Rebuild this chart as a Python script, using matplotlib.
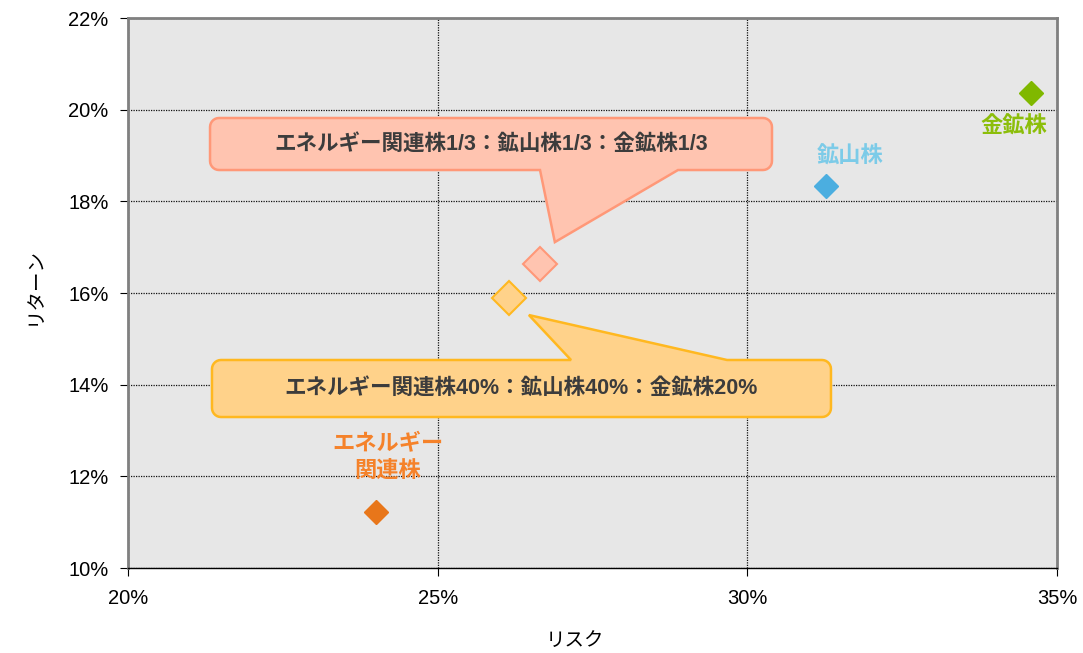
import numpy as np
import matplotlib
matplotlib.use('Agg')
import matplotlib.pyplot as plt
from matplotlib.path import Path
from matplotlib.patches import PathPatch
from matplotlib.ticker import FuncFormatter, MultipleLocator

plt.rcParams['font.family'] = ['Liberation Sans', 'Noto Sans CJK JP']

# single sectors (risk %, return %)
names = ['エネルギー\n関連株', '鉱山株', '金鉱株']
risk = [24.0, 31.27, 34.58]
ret = [11.22, 18.34, 20.36]
marker_colors = ['#E8761A', '#4BAEE0', '#80B800']
label_colors = ['#F5822A', '#7CCBE8', '#8CBE0A']
label_offsets = [(12, 54), (24, 29), (-17, -34)]  # pixels

# portfolios
port_names = ['エネルギー関連株1/3：鉱山株1/3：金鉱株1/3',
              'エネルギー関連株40%：鉱山株40%：金鉱株20%']
port_risk = [26.65, 26.15]
port_ret = [16.63, 15.89]
port_face = ['#FFC4B0', '#FFD28A']
port_edge = ['#FF9878', '#FFB820']

W, H, DPI = 1083, 653, 100
fig = plt.figure(figsize=(W / DPI, H / DPI), dpi=DPI)
ax = fig.add_axes([128 / W, 85 / H, 929 / W, 550 / H])
ax.set_facecolor('#E7E7E7')

ax.set_xlim(20, 35)
ax.set_ylim(10, 22)
ax.xaxis.set_major_locator(MultipleLocator(5))
ax.yaxis.set_major_locator(MultipleLocator(2))
pct = FuncFormatter(lambda v, p: f'{v:.0f}%')
ax.xaxis.set_major_formatter(pct)
ax.yaxis.set_major_formatter(pct)
ax.tick_params(axis='both', labelsize=14.5, colors='black', length=6, width=0.8,
               direction='out')
ax.tick_params(axis='x', pad=9)
ax.tick_params(axis='y', pad=8)
ax.grid(True, color='#111111', linewidth=0.9, linestyle=(0, (1, 1)))
ax.set_axisbelow(True)

for s in ['top', 'right', 'left']:
    ax.spines[s].set_color('#808080')
    ax.spines[s].set_linewidth(2)
ax.spines['bottom'].set_color('black')
ax.spines['bottom'].set_linewidth(1)

ax.set_xlabel('リスク', fontsize=14)
ax.set_ylabel('リターン', fontsize=14)
ax.xaxis.set_label_coords((575 - 128) / 929, -(641 - 568) / 550)
ax.yaxis.set_label_coords(-(128 - 35) / 929, (568 - 286) / 550)
ax.xaxis.label.set_va('center')
ax.yaxis.label.set_va('center')

# sector markers and labels
for i in range(len(names)):
    ax.plot(risk[i], ret[i], marker='D', markersize=12.5, color=marker_colors[i],
            linestyle='none', zorder=5)
    ax.annotate(names[i], (risk[i], ret[i]), xytext=label_offsets[i],
                textcoords='offset pixels', ha='center', va='center',
                fontsize=16, fontweight='bold', color=label_colors[i],
                linespacing=1.35, zorder=6)

# portfolio markers
for i in range(len(port_names)):
    ax.plot(port_risk[i], port_ret[i], marker='D', markersize=17.5,
            markerfacecolor=port_face[i], markeredgecolor=port_edge[i],
            markeredgewidth=1.5, linestyle='none', zorder=5)


def arc(cx, cy, r, a0, a1, n=8):
    t = np.linspace(np.radians(a0), np.radians(a1), n)
    return list(zip(cx + r * np.cos(t), cy + r * np.sin(t)))


def callout(box, base, tip, side, face, edge, r=9):
    # box / base in axes fraction, tip in display pixels
    x0, y0 = ax.transAxes.transform((box[0], box[1]))
    x1, y1 = ax.transAxes.transform((box[2], box[3]))
    bx0 = ax.transAxes.transform((base[0], 0))[0]
    bx1 = ax.transAxes.transform((base[1], 0))[0]
    pts = [(x0 + r, y0)]
    if side == 'bottom':
        pts += [(bx0, y0), tip, (bx1, y0)]
    pts += [(x1 - r, y0)]
    pts += arc(x1 - r, y0 + r, r, -90, 0)
    pts += arc(x1 - r, y1 - r, r, 0, 90)
    if side == 'top':
        pts += [(bx1, y1), tip, (bx0, y1)]
    pts += arc(x0 + r, y1 - r, r, 90, 180)
    pts += arc(x0 + r, y0 + r, r, 180, 270)
    pts.append(pts[0])
    codes = [Path.MOVETO] + [Path.LINETO] * (len(pts) - 2) + [Path.CLOSEPOLY]
    patch = PathPatch(Path(pts, codes), facecolor=face, edgecolor=edge,
                      linewidth=1.8, transform=None, zorder=7)
    fig.add_artist(patch)
    return (x0 + x1) / 2, (y0 + y1) / 2


boxes = [(0.0883, 0.7236, 0.6932, 0.8182), (0.0904, 0.2745, 0.7567, 0.3782)]
bases = [(0.4435, 0.592), (0.4769, 0.6448)]
tip_offsets = [(15, 22), (20, -17)]
sides = ['bottom', 'top']

for i in range(len(port_names)):
    mx, my = ax.transData.transform((port_risk[i], port_ret[i]))
    tip = (mx + tip_offsets[i][0], my + tip_offsets[i][1])
    cx, cy = callout(boxes[i], bases[i], tip, sides[i], port_face[i], port_edge[i])
    fig.text(cx / W, cy / H, port_names[i], ha='center', va='center',
             fontsize=15.5, fontweight='bold', color='#3C3C3C', zorder=8)

fig.savefig('out.png', dpi=DPI)
